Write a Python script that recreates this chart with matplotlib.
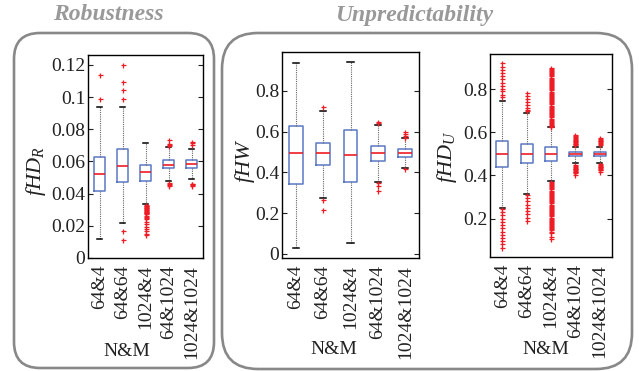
import matplotlib
matplotlib.use("Agg")
import matplotlib.pyplot as plt
from matplotlib.patches import FancyBboxPatch
from matplotlib import transforms

FONT = 'Liberation Serif'
plt.rcParams['font.family'] = [FONT, 'DejaVu Serif']
plt.rcParams['mathtext.fontset'] = 'custom'
plt.rcParams['mathtext.rm'] = FONT
plt.rcParams['mathtext.it'] = FONT + ':italic'

W, H, DPI = 639, 371, 100

categories = ["64&4", "64&64", "1024&4", "64&1024", "1024&1024"]

# ---- Robustness: fHD_R ----
r_q1 = [0.0418, 0.0470, 0.0480, 0.0557, 0.0557]
r_med = [0.0522, 0.0572, 0.0532, 0.0578, 0.0584]
r_q3 = [0.0625, 0.0680, 0.0578, 0.0610, 0.0610]
r_lo = [0.0117, 0.0216, 0.0334, 0.0476, 0.0489]
r_hi = [0.0936, 0.0936, 0.0715, 0.0687, 0.0680]
r_fliers = [
    [0.114, 0.099],
    [0.120, 0.1095, 0.1045, 0.099, 0.0165, 0.0115],
    [0.0329, 0.0325, 0.0321, 0.0317, 0.0313, 0.0309, 0.0305, 0.0301, 0.0297,
     0.0293, 0.0289, 0.0285, 0.0281, 0.0277, 0.0273, 0.0262, 0.0255, 0.0248,
     0.024, 0.0225, 0.021, 0.0195, 0.018, 0.0165, 0.015, 0.014],
    [0.0735, 0.071, 0.0702, 0.0695, 0.0465, 0.046, 0.0455, 0.0445],
    [0.072, 0.0712, 0.0705, 0.0462, 0.0458, 0.0455, 0.045],
]

# ---- Unpredictability: fHW ----
w_q1 = [0.343, 0.435, 0.355, 0.458, 0.477]
w_med = [0.494, 0.494, 0.484, 0.494, 0.494]
w_q3 = [0.629, 0.543, 0.610, 0.531, 0.512]
w_lo = [0.028, 0.275, 0.052, 0.355, 0.423]
w_hi = [0.935, 0.700, 0.942, 0.633, 0.566]
w_fliers = [
    [],
    [0.718, 0.263, 0.216],
    [],
    [0.649, 0.640, 0.348, 0.335, 0.310],
    [0.597, 0.586, 0.577, 0.566, 0.417],
]

# ---- Unpredictability: fHD_U ----
u_q1 = [0.437, 0.456, 0.468, 0.490, 0.490]
u_med = [0.499, 0.499, 0.499, 0.499, 0.499]
u_q3 = [0.561, 0.546, 0.530, 0.510, 0.510]
u_lo = [0.251, 0.316, 0.372, 0.456, 0.459]
u_hi = [0.747, 0.688, 0.625, 0.533, 0.533]
u_fliers = [
    [0.921, 0.905, 0.890, 0.875, 0.860, 0.845, 0.830, 0.815, 0.800, 0.790,
     0.775, 0.763,
     0.245, 0.230, 0.215, 0.200, 0.185, 0.170, 0.155, 0.140, 0.125, 0.110,
     0.095, 0.080, 0.065],
    [0.781, 0.768, 0.755, 0.742, 0.728, 0.715, 0.705, 0.698,
     0.310, 0.295, 0.280, 0.265, 0.250, 0.235, 0.220, 0.205, 0.189],
    [0.900, 0.894, 0.889, 0.884, 0.879, 0.874, 0.869, 0.864, 0.859, 0.854,
     0.849, 0.844, 0.839, 0.834, 0.829, 0.824, 0.819, 0.814, 0.809, 0.804,
     0.799, 0.794, 0.789, 0.784, 0.779, 0.774, 0.769, 0.764, 0.759, 0.754,
     0.749, 0.744, 0.739, 0.734, 0.729, 0.724, 0.719, 0.714, 0.709, 0.704,
     0.699, 0.694, 0.689, 0.684, 0.679, 0.674, 0.669, 0.664, 0.659, 0.654,
     0.649, 0.644, 0.639, 0.634, 0.630, 0.626,
     0.370, 0.365, 0.360, 0.355, 0.350, 0.345, 0.340, 0.335, 0.330, 0.325,
     0.320, 0.315, 0.310, 0.305, 0.300, 0.295, 0.290, 0.285, 0.280, 0.275,
     0.270, 0.265, 0.260, 0.255, 0.250, 0.245, 0.240, 0.235, 0.230, 0.225,
     0.220, 0.215, 0.210, 0.205, 0.200, 0.195, 0.190, 0.185, 0.180, 0.175,
     0.170, 0.165, 0.160, 0.155, 0.150, 0.145, 0.140, 0.135, 0.115, 0.104],
    [0.587, 0.582, 0.578, 0.574, 0.570, 0.566, 0.562, 0.558, 0.555, 0.551,
     0.548, 0.544, 0.541,
     0.448, 0.444, 0.440, 0.436, 0.432, 0.428, 0.425, 0.421, 0.418, 0.414,
     0.410, 0.401],
    [0.574, 0.570, 0.566, 0.562, 0.558, 0.554, 0.550, 0.545, 0.541,
     0.452, 0.448, 0.445, 0.441, 0.438, 0.434, 0.431, 0.427, 0.424, 0.417],
]

r_ticks = [0, 0.02, 0.04, 0.06, 0.08, 0.1, 0.12]
r_ticklabels = ["0", "0.02", "0.04", "0.06", "0.08", "0.1", "0.12"]
w_ticks = [0, 0.2, 0.4, 0.6, 0.8]
w_ticklabels = ["0", "0.2", "0.4", "0.6", "0.8"]
u_ticks = [0.2, 0.4, 0.6, 0.8]
u_ticklabels = ["0.2", "0.4", "0.6", "0.8"]


def build_stats(q1, med, q3, lo, hi, fl):
    return [dict(q1=a, med=b, q3=c, whislo=d, whishi=e, fliers=f, label=l)
            for a, b, c, d, e, f, l in zip(q1, med, q3, lo, hi, fl, categories)]


fig = plt.figure(figsize=(W / DPI, H / DPI), dpi=DPI)


def px_axes(left, top, right, bottom):
    return fig.add_axes([left / W, 1 - bottom / H, (right - left) / W, (bottom - top) / H])


ax1 = px_axes(88, 55, 203, 258)
ax2 = px_axes(282, 52, 419, 258)
ax3 = px_axes(490, 54, 612, 257)

BLUE = '#5b78c4'
RED = '#ee1c24'
TXT = '#222222'

panels = [
    (ax1, build_stats(r_q1, r_med, r_q3, r_lo, r_hi, r_fliers), (0, 0.1262), r_ticks, r_ticklabels),
    (ax2, build_stats(w_q1, w_med, w_q3, w_lo, w_hi, w_fliers), (-0.02, 0.99), w_ticks, w_ticklabels),
    (ax3, build_stats(u_q1, u_med, u_q3, u_lo, u_hi, u_fliers), (0.022, 0.963), u_ticks, u_ticklabels),
]

for ax, stats, ylim, ticks, tlabels in panels:
    ax.bxp(stats, positions=range(1, 6), widths=0.5, capwidths=0.22,
           boxprops=dict(color=BLUE, linewidth=1.1),
           medianprops=dict(color=RED, linewidth=1.2),
           whiskerprops=dict(color='#666666', linewidth=0.8, linestyle=(0, (1, 1))),
           capprops=dict(color='black', linewidth=1.1),
           flierprops=dict(marker='+', markeredgecolor=RED, markersize=3.6, markeredgewidth=0.9,
                           linestyle='none'))
    ax.set_xlim(0.5, 5.5)
    ax.set_ylim(*ylim)
    ax.set_yticks(ticks)
    ax.set_yticklabels(tlabels, fontfamily=FONT)
    ax.set_xticks(range(1, 6))
    ax.set_xticklabels(categories, rotation=90, va='top', fontfamily=FONT)
    ax.tick_params(axis='y', direction='in', right=True, length=3.5, width=0.8,
                   labelsize=14, pad=2, colors=TXT)
    ax.tick_params(axis='x', length=0, labelsize=14, pad=5, colors=TXT)
    for sp in ax.spines.values():
        sp.set_linewidth(1.0)
        sp.set_color('black')

# y labels
for txt, x, y in [(r'$fHD_R$', 36, 171), (r'$fHW$', 245, 161), (r'$fHD_U$', 447, 157)]:
    fig.text(x / W, 1 - y / H, txt, rotation=90, ha='center', va='center',
             fontsize=16, color=TXT)

# x labels
for x, y in [(127, 351), (334, 350), (546, 350)]:
    fig.text(x / W, 1 - y / H, "N&M", ha='center', va='center', fontsize=14,
             color=TXT, fontfamily=FONT)

# titles
for txt, x in [("Robustness", 108), ("Unpredictability", 414)]:
    fig.text(x / W, 1 - 15 / H, txt, ha='center', va='center', fontsize=17,
             fontweight='bold', fontstyle='italic', color='#999999', fontfamily=FONT)

# rounded frames in pixel coordinates
pxt = transforms.Affine2D().scale(1 / DPI) + fig.dpi_scale_trans
for (l, t, r, b, rad) in [(14, 33, 214, 368, 26), (222, 33, 632, 369, 36)]:
    patch = FancyBboxPatch((l, H - b), r - l, b - t,
                           boxstyle=f"round,pad=0,rounding_size={rad}",
                           transform=pxt, fill=False, edgecolor='#888888',
                           linewidth=1.9)
    fig.add_artist(patch)

fig.savefig("out.png", dpi=DPI)
